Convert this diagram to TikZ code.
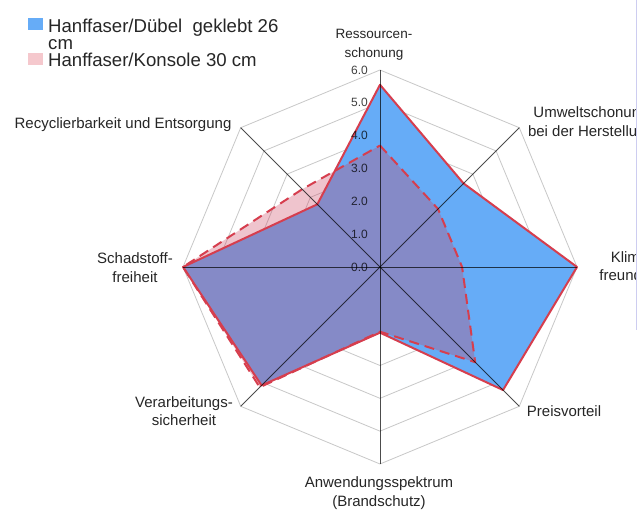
\documentclass[tikz,border=0pt]{standalone}
\usepackage{fontspec}
\setmainfont{Liberation Sans}
\definecolor{bluefill}{RGB}{102,172,247}
\definecolor{pinkfill}{RGB}{205,60,90}
\definecolor{redline}{RGB}{214,62,78}
\definecolor{gridgray}{RGB}{200,200,200}
\definecolor{legpink}{RGB}{245,200,205}
\definecolor{edgeline}{RGB}{205,205,240}
\begin{document}
\begin{tikzpicture}[x=1pt,y=1pt,
  lbl/.style={font=\fontsize{15}{18.5}\selectfont, align=center, text=black!85, inner sep=0pt},
  ticklbl/.style={font=\fontsize{12}{14}\selectfont, text=black, text opacity=0.75, anchor=east, inner sep=0pt},
  legtext/.style={font=\fontsize{18.6}{17}\selectfont, align=left, text=black!85, inner sep=0pt, anchor=base west},
  gridline/.style={draw=gridgray, line width=0.8pt},
  spoke/.style={draw=black, draw opacity=0.7, line width=0.9pt},
  solidline/.style={draw=redline, line width=2pt, line join=round},
  dashline/.style={draw=redline, line width=2pt, dash pattern=on 10pt off 6pt, line join=round}]
\fill[white] (0,0) rectangle (638,511);
\useasboundingbox (0,0) rectangle (638,511);
\begin{scope}
\clip (0,0) rectangle (636,511);
% radar chart
\begin{scope}[shift={(380pt,244pt)}, x=32.833pt, y=32.833pt]
  \foreach \r in {1,...,6}{
    \draw[gridline] (0:\r) -- (45:\r) -- (90:\r) -- (135:\r) -- (180:\r) -- (225:\r) -- (270:\r) -- (315:\r) -- cycle;
  }
  % series 1: Hanffaser/Duebel geklebt 26 cm
  \fill[bluefill] (90:5.55) -- (45:3.6) -- (0:6) -- (-45:5.3) -- (-90:2.0) -- (-135:5.1) -- (180:6) -- (135:2.7) -- cycle;
  % series 2: Hanffaser/Konsole 30 cm
  \fill[pinkfill, fill opacity=0.3] (90:3.7) -- (45:2.5) -- (0:2.5) -- (-45:4.1) -- (-90:1.97) -- (-135:5.18) -- (180:6) -- (135:3.35) -- cycle;
  \draw[dashline] (90:3.7) -- (45:2.5) -- (0:2.5) -- (-45:4.1) -- (-90:1.97) -- (-135:5.18) -- (180:6) -- (135:3.35) -- cycle;
  \draw[solidline] (90:5.55) -- (45:3.6) -- (0:6) -- (-45:5.3) -- (-90:2.0) -- (-135:5.1) -- (180:6) -- (135:2.7) -- cycle;
  \coordinate (O) at (0,0);
  \foreach \a in {0,45,...,315}{
    \coordinate (ax\a) at (\a:6);
    \draw[spoke] (O) -- (ax\a);
  }
  \foreach \v in {0,...,6}{
    \node[ticklbl] (t\v) at ([xshift=-12pt]90:\v) {\v.0};
  }
\end{scope}
% axis labels
\node[lbl, font=\fontsize{13.5}{19}\selectfont] (l1) at (374,466) {Ressourcen-\\schonung};
\node[lbl] (l2) at (591,388) {Umweltschonung\\bei der Herstellung};
\node[lbl] (l3) at (632,245) {Klima-\\freundlich};
\node[lbl] (l4) at (564,100) {Preisvorteil};
\node[lbl] (l5) at (379,18) {Anwendungsspektrum\\(Brandschutz)};
\node[lbl] (l6) at (184,100) {Verarbeitungs-\\sicherheit};
\node[lbl] (l7) at (135,243.5) {Schadstoff-\\freiheit};
\node[lbl] (l8) at (123,386) {Recyclierbarkeit und Entsorgung};
% legend
\fill[bluefill] (28,481) rectangle (43,493);
\node[legtext] (g1) at (48,461) {Hanffaser/Dübel~ geklebt 26\\cm};
\fill[legpink] (28,446) rectangle (43,458);
\node[legtext] (g2) at (48,444) {Hanffaser/Konsole 30 cm};
\end{scope}
\draw[edgeline, line width=1pt] (636.5,511) -- (636.5,181);
\end{tikzpicture}
\end{document}
